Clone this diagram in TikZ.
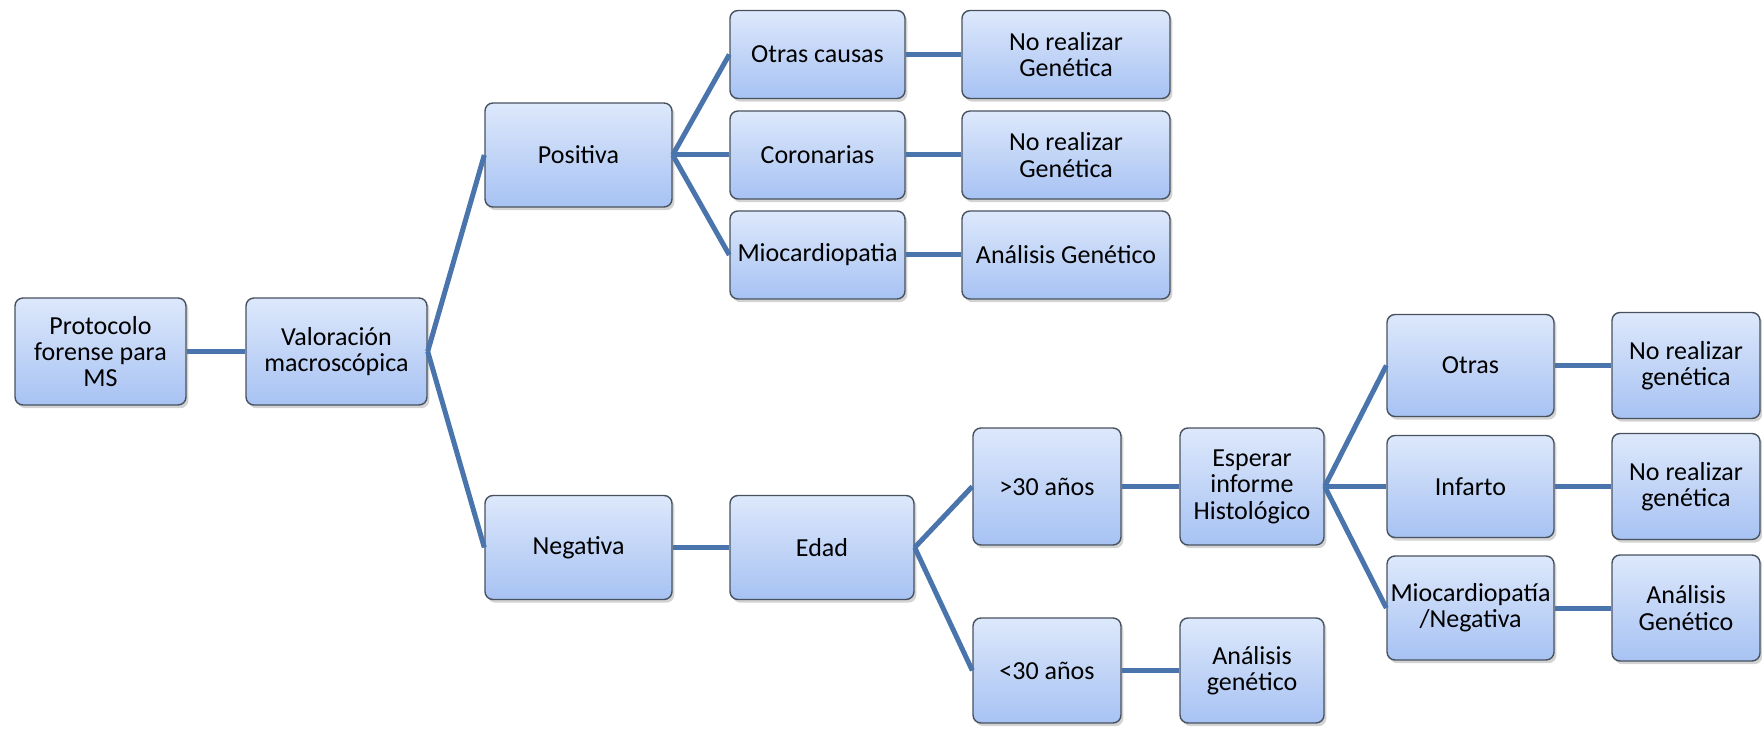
\documentclass[tikz,border=0pt]{standalone}
\usepackage{fontspec}
\setmainfont{Carlito}
\usetikzlibrary{shadows}
\definecolor{boxtop}{HTML}{DDE8FB}
\definecolor{boxbot}{HTML}{A7C2F3}
\definecolor{boxline}{HTML}{48525F}
\definecolor{linkblue}{HTML}{4A74AC}

\begin{document}
\begin{tikzpicture} [
    x = 0.5pt, y = -0.5pt,
    b/.style = {rectangle, draw=boxline, line width=0.7pt, rounded corners=4pt,
    top color=boxtop, bottom color=boxbot, align=center, inner sep=1pt,
    drop shadow={opacity=0.35, shadow xshift=1.2pt, shadow yshift=-1.6pt},
    font=\fontsize{13}{13.2}\selectfont},
    link/.style = {draw=linkblue, line width=2.5pt},
    ]
    \useasboundingbox (0,0) rectangle (1762,732);

    \node[b, minimum width=85.5pt, minimum height=53.5pt] (proto) at (100.5,351.5) {Protocolo\\forense para\\MS};
    \node[b, minimum width=90.5pt, minimum height=53.5pt] (valor) at (336.5,351.5) {Valoración\\macroscópica};
    \node[b, minimum width=93.5pt, minimum height=52pt] (pos) at (578.5,155) {Positiva};
    \node[b, minimum width=93.5pt, minimum height=52pt] (neg) at (578.5,547.5) {Negativa};

    \node[b, minimum width=87.5pt, minimum height=44pt] (otras) at (817.5,54.5) {Otras causas};
    \node[b, minimum width=87.5pt, minimum height=44pt] (coro) at (817.5,155) {Coronarias};
    \node[b, minimum width=87.5pt, minimum height=44pt] (mioc) at (817.5,255) {Miocardiopatia};
    \node[b, minimum width=104pt, minimum height=44pt] (noreal1) at (1066,54.5) {No realizar\\Genética};
    \node[b, minimum width=104pt, minimum height=44pt] (noreal2) at (1066,155) {No realizar\\Genética};
    \node[b, minimum width=104pt, minimum height=44pt] (angen1) at (1066,255) {Análisis Genético};

    \node[b, minimum width=92pt, minimum height=52pt] (edad) at (822,547.5) {Edad};
    \node[b, minimum width=74pt, minimum height=58.5pt] (may30) at (1047,486.5) {>30 años};
    \node[b, minimum width=74pt, minimum height=52.5pt] (men30) at (1047,670.5) {<30 años};
    \node[b, minimum width=72pt, minimum height=58.5pt] (esperar) at (1252,486.5) {Esperar\\informe\\Histológico};
    \node[b, minimum width=72pt, minimum height=52.5pt] (angen2) at (1252,670.5) {Análisis\\genético};

    \node[b, minimum width=83.5pt, minimum height=51pt] (otras2) at (1470.5,365.5) {Otras};
    \node[b, minimum width=83.5pt, minimum height=51pt] (infarto) at (1470.5,486.5) {Infarto};
    \node[b, minimum width=83.5pt, minimum height=52pt] (mioneg) at (1470.5,608) {Miocardiopatía\\/Negativa};
    \node[b, minimum width=74pt, minimum height=53pt] (noreal3) at (1686,365.5) {No realizar\\genética};
    \node[b, minimum width=74pt, minimum height=53pt] (noreal4) at (1686,486.5) {No realizar\\genética};
    \node[b, minimum width=74pt, minimum height=53pt] (angen3) at (1686,608) {Análisis\\Genético};

    \draw[link] (proto) -- (valor);
    \draw[link] (valor.east) -- (pos.west);
    \draw[link] (valor.east) -- (neg.west);
    \draw[link] (pos.east) -- (otras.west);
    \draw[link] (pos.east) -- (coro.west);
    \draw[link] (pos.east) -- (mioc.west);
    \draw[link] (otras) -- (noreal1);
    \draw[link] (coro) -- (noreal2);
    \draw[link] (mioc) -- (angen1);
    \draw[link] (neg) -- (edad);
    \draw[link] (edad.east) -- (may30.west);
    \draw[link] (edad.east) -- (men30.west);
    \draw[link] (may30) -- (esperar);
    \draw[link] (men30) -- (angen2);
    \draw[link] (esperar.east) -- (otras2.west);
    \draw[link] (esperar.east) -- (infarto.west);
    \draw[link] (esperar.east) -- (mioneg.west);
    \draw[link] (otras2) -- (noreal3);
    \draw[link] (infarto) -- (noreal4);
    \draw[link] (mioneg) -- (angen3);
\end{tikzpicture}
\end{document}
